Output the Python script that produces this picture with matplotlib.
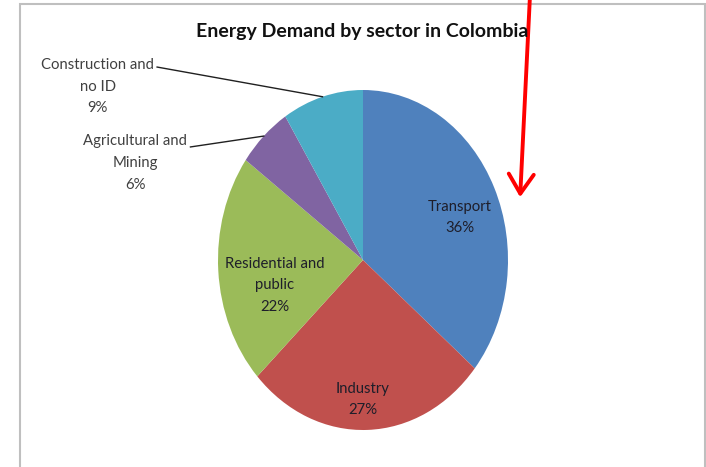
import numpy as np
import matplotlib.pyplot as plt
from matplotlib.patches import Rectangle, FancyArrowPatch

# sectors and their share of energy demand (%)
sectors = ["Transport", "Industry", "Residential and\npublic", "Agricultural and\nMining", "Construction and\nno ID"]
shares = [36, 27, 22, 6, 9]
colors = ["#4F81BD", "#C0504D", "#9BBB59", "#8064A2", "#4BACC6"]

plt.rcParams['font.family'] = ['Lato', 'DejaVu Sans']

fig = plt.figure(figsize=(7.06, 4.67), dpi=100)
W, H = 706, 467

# chart frame (bottom edge is cut off in the original screenshot)
fig.patches.append(Rectangle((20 / W, -5 / H), 685 / W, 468 / H, transform=fig.transFigure,
                             fill=False, edgecolor="#BFBFBF", linewidth=1.5))

# pie axes (the pie is slightly squashed in the original)
cx, cy, rx, ry = 363, 260, 145, 170
ax = fig.add_axes([(cx - rx) / W, (H - cy - ry) / H, 2 * rx / W, 2 * ry / H])
wedges, _ = ax.pie(shares, colors=colors, startangle=90, counterclock=False,
                   wedgeprops=dict(linewidth=0))
ax.set_aspect('auto')
ax.set_xlim(-1, 1)
ax.set_ylim(-1, 1)

# inside labels
inside = {0: (0.67, 0.25), 1: (0.0, -0.82), 2: (-0.61, -0.15)}
for i, (x, y) in inside.items():
    ax.text(x, y, f"{sectors[i]}\n{shares[i]}%", ha='center', va='center',
            fontsize=10.7, color="#1E1E2A", linespacing=1.7)

# outside labels with leader lines
outside = {3: ((-1.57, 0.57), (-1.19, 0.665)), 4: ((-1.83, 1.02), (-1.42, 1.135))}
for i, ((tx, ty), (lx, ly)) in outside.items():
    ax.text(tx, ty, f"{sectors[i]}\n{shares[i]}%", ha='center', va='center',
            fontsize=10.7, color="#404040", linespacing=1.7, clip_on=False)
    w = wedges[i]
    mid = np.deg2rad((w.theta1 + w.theta2) / 2)
    ax.plot([lx, np.cos(mid)], [ly, np.sin(mid)], color="#202020", lw=1, clip_on=False)

fig.text(362 / W, 1 - 32 / H, "Energy Demand by sector in Colombia", ha='center', va='center',
         fontsize=14, fontweight='bold', color="#111111")

# red arrow drawn over the chart
fig.patches.append(FancyArrowPatch(
    (530 / W, 1.01), (520 / W, 1 - 200 / H), transform=fig.transFigure,
    arrowstyle="->,head_length=0.7,head_width=0.45", mutation_scale=20,
    color="#FF0000", linewidth=2.8))

fig.savefig("out.png", dpi=100)
